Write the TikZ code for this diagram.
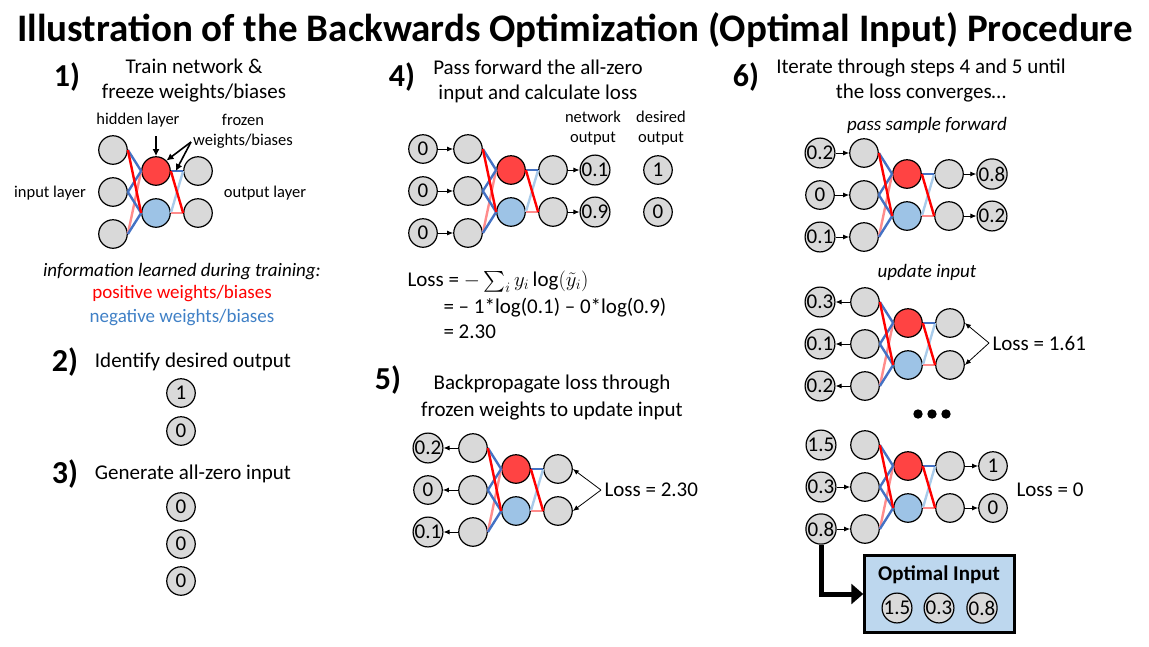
\documentclass[tikz,border=0pt]{standalone}
\usepackage{amsmath}
\usepackage{fontspec}
\setmainfont{Carlito}
\usetikzlibrary{arrows.meta}

\definecolor{nodegray}{HTML}{D9D9D9}
\definecolor{posfill}{HTML}{FF4343}
\definecolor{negfill}{HTML}{9DC3E6}
\definecolor{posline}{HTML}{FF0000}
\definecolor{negline}{HTML}{4472C4}
\definecolor{lposline}{HTML}{FF8C8C}
\definecolor{lnegline}{HTML}{A9CBEA}
\definecolor{negtext}{HTML}{3F80C6}
\definecolor{boxfill}{HTML}{BDD7EE}

\tikzset{
  neuron/.style={circle, draw, fill=nodegray, line width=1.2pt, minimum size=28.5pt, inner sep=0pt},
  val/.style={neuron, font=\fontsize{21}{21}\selectfont},
  posw/.style={posline, line width=2.4pt},
  negw/.style={negline, line width=2.4pt},
  lposw/.style={lposline, line width=2.4pt},
  lnegw/.style={lnegline, line width=2.4pt},
  flow/.style={line width=0.9pt, -{Latex[length=6pt,width=5pt]}},
  lossarrow/.style={line width=0.8pt, -{Latex[length=6pt,width=5pt]}},
  lblarrow/.style={line width=1.6pt, -{Latex[length=7pt,width=7pt]}},
  stepnum/.style={font=\fontsize{32}{32}\selectfont\bfseries},
  steptext/.style={font=\fontsize{21}{25}\selectfont, align=center},
  smalltext/.style={font=\fontsize{16.5}{20}\selectfont, align=center},
  note/.style={font=\fontsize{19}{23}\selectfont\itshape}
}

% #1 name prefix, #2 x and #3 y of the top input neuron
\newcommand{\drawnet}[3]{%
  \foreach \k in {1,2,3}
    \node[neuron] (#1i\k) at (#2, {#3+42*(\k-1)}) {};
  \node[neuron, fill=posfill] (#1h1) at ({#2+43}, {#3+21}) {};
  \node[neuron, fill=negfill] (#1h2) at ({#2+43}, {#3+63}) {};
  \node[neuron] (#1o1) at ({#2+85}, {#3+21}) {};
  \node[neuron] (#1o2) at ({#2+85}, {#3+63}) {};
  \draw[lposw] (#1i3.east) -- (#1h1.west);
  \draw[lnegw] (#1h2.east) -- (#1o1.west);
  \draw[lposw] (#1h2.east) -- (#1o2.west);
  \draw[negw] (#1i1.east) -- (#1h1.west);
  \draw[negw] (#1i2.east) -- (#1h1.west);
  \draw[negw] (#1i2.east) -- (#1h2.west);
  \draw[negw] (#1i3.east) -- (#1h2.west);
  \draw[negw] (#1h1.east) -- coordinate[pos=0.4] (#1mid) (#1o1.west);
  \draw[posw] (#1i1.east) -- (#1h2.west);
  \draw[posw] (#1h1.east) -- (#1o2.west);
}

\begin{document}
\begin{tikzpicture}[x=1pt, y=-1pt]
\useasboundingbox (0,0) rectangle (1149,646);

\node[font=\fontsize{39}{39}\selectfont\bfseries] (title) at (575,30)
  {Illustration of the Backwards Optimization (Optimal Input) Procedure};

% step 1
\node[stepnum] (num1) at (67,77) {1)};
\node[steptext] (txt1) at (194,81) {Train network \&\\freeze weights/biases};
\drawnet{one}{113}{150}
\node[smalltext] (hidlbl) at (138,120) {hidden layer};
\node[smalltext] (frzlbl) at (243,131) {frozen\\weights/biases};
\node[smalltext] (inlbl) at (50,193) {input layer};
\node[smalltext] (outlbl) at (265,193) {output layer};
\coordinate (hidtail) at (156,136);
\coordinate (frztail) at (191,142);
\draw[lblarrow] (hidtail) -- (hidtail |- oneh1.north);
\draw[lblarrow] (frztail) -- (oneh1.north east);
\draw[lblarrow] (frztail) -- (onemid);
\node[note] (info) at (182,272) {information learned during training:};
\node[font=\fontsize{19}{23}\selectfont, text=posline] (postxt) at (182,294) {positive weights/biases};
\node[font=\fontsize{19}{23}\selectfont, text=negtext] (negtxt) at (182,318) {negative weights/biases};

% step 2
\node[stepnum] (num2) at (65,362) {2)};
\node[steptext] (txt2) at (193,362) {Identify desired output};
\node[val] (want1) at (181,393) {1};
\node[val] (want0) at (181,431) {0};

% step 3
\node[stepnum] (num3) at (65,474) {3)};
\node[steptext] (txt3) at (193,474) {Generate all-zero input};
\foreach \y [count=\k] in {507,544,581}
  \node[val] (zero\k) at (181,\y) {0};

% step 4
\node[stepnum] (num4) at (402,77) {4)};
\node[steptext] (txt4) at (538,81) {Pass forward the all-zero\\input and calculate loss};
\drawnet{four}{468}{149}
\foreach \k in {1,2,3} {
  \node[val] (fourv\k) at (423, {149+42*(\k-1)}) {0};
  \draw[flow] (fourv\k) -- (fouri\k);
}
\node[val] (fourr1) at (595,170) {0.1};
\node[val] (fourr2) at (595,212) {0.9};
\draw[flow] (fouro1) -- (fourr1);
\draw[flow] (fouro2) -- (fourr2);
\node[val] (fourd1) at (658,170) {1};
\node[val] (fourd2) at (658,212) {0};
\node[smalltext] (netout) at (593,128) {network\\output};
\node[smalltext] (desout) at (661,128) {desired\\output};

\node[steptext, anchor=west, inner ysep=0pt] (loss1) at (404,282)
  {Loss = $-\sum_i y_i \log(\tilde{y}_i)$};
\node[steptext, anchor=west, inner ysep=0pt] (loss2) at (440,308) {= – 1*log(0.1) – 0*log(0.9)};
\node[steptext, anchor=west, inner ysep=0pt] (loss3) at (440,332) {= 2.30};

% step 5
\node[stepnum] (num5) at (388,380) {5)};
\node[steptext, font=\fontsize{21}{27}\selectfont] (txt5) at (552,398)
  {Backpropagate loss through\\frozen weights to update input};
\drawnet{five}{473}{448}
\foreach \v [count=\k] in {0.2,0,0.1} {
  \node[val] (fivev\k) at (428, {448+42*(\k-1)}) {\v};
  \draw[flow] (fivei\k) -- (fivev\k);
}
\node[steptext, anchor=west] (loss5) at (601,490) {Loss = 2.30};
\draw[lossarrow] (loss5.west) -- (fiveo1.east);
\draw[lossarrow] (loss5.west) -- (fiveo2.east);

% step 6
\node[stepnum] (num6) at (746,77) {6)};
\node[steptext] (txt6) at (921,81) {Iterate through steps 4 and 5 until\\the loss converges…};

\node[note] (fwdlbl) at (927,125) {pass sample forward};
\drawnet{sixa}{864}{153}
\foreach \v [count=\k] in {0.2,0,0.1} {
  \node[val] (sixav\k) at (820, {153+42*(\k-1)}) {\v};
  \draw[flow] (sixav\k) -- (sixai\k);
}
\node[val] (sixar1) at (992,174) {0.8};
\node[val] (sixar2) at (992,216) {0.2};
\draw[flow] (sixao1) -- (sixar1);
\draw[flow] (sixao2) -- (sixar2);

\node[note] (updlbl) at (927,272) {update input};
\drawnet{sixb}{865}{302}
\foreach \v [count=\k] in {0.3,0.1,0.2} {
  \node[val] (sixbv\k) at (820, {302+42*(\k-1)}) {\v};
  \draw[flow] (sixbi\k) -- (sixbv\k);
}
\node[steptext, anchor=west] (loss6) at (989,343) {Loss = 1.61};
\draw[lossarrow] (loss6.west) -- (sixbo1.east);
\draw[lossarrow] (loss6.west) -- (sixbo2.east);

\foreach \x in {918,932,946}
  \fill (\x,414) circle (4.7);

\drawnet{sixc}{865}{445}
\foreach \v [count=\k] in {1.5,0.3,0.8}
  \node[val] (sixcv\k) at (821, {445+42*(\k-1)}) {\v};
\draw[flow] (sixcv2) -- (sixci2);
\draw[flow] (sixcv3) -- (sixci3);
\node[val] (sixcr1) at (993,466) {1};
\node[val] (sixcr2) at (993,508) {0};
\draw[flow] (sixco1) -- (sixcr1);
\draw[flow] (sixco2) -- (sixcr2);
\node[steptext] (loss7) at (1050,490) {Loss = 0};

% optimal input box
\node[draw, fill=boxfill, line width=2.5pt, minimum width=150pt, minimum height=77pt] (optbox) at (939.5,594) {};
\node[font=\fontsize{21}{21}\selectfont\bfseries] (optlbl) at (939,575) {Optimal Input};
\foreach \v/\x in {1.5/897,0.3/939,0.8/982}
  \node[val] (opt\v) at (\x,608) {\v};
\draw[line width=5pt, -{Triangle[length=12pt,width=20pt]}] (sixcv3.south) |- (optbox.west);

\end{tikzpicture}
\end{document}
